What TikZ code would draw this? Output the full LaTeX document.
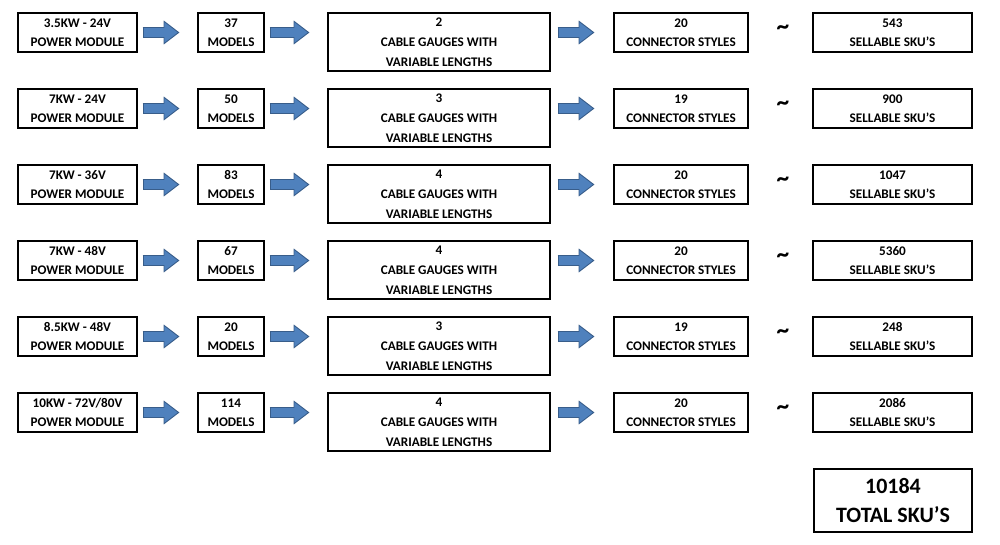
\documentclass[tikz,border=0pt]{standalone}
\usepackage{fontspec}
\setmainfont{Carlito}
\usetikzlibrary{arrows.meta,calc}
\definecolor{arrowblue}{RGB}{79,129,189}
\definecolor{arrowedge}{RGB}{56,93,138}
\begin{document}
\begin{tikzpicture}
[x=0.02cm, y=-0.02cm,
smallbox/.style={rectangle, draw=black, thick, align=center, font=\bfseries\fontsize{7.5}{11}\selectfont, inner sep=0pt},
bigbox/.style={rectangle, draw=black, thick, align=center, font=\bfseries\fontsize{7.5}{11.3}\selectfont, inner sep=0pt, minimum width=222*0.02cm, minimum height=58*0.02cm},
blockarrow/.style={draw=arrowedge, line width=6pt, -{Triangle[length=9pt,width=13pt]}, shorten >=1pt},
blockfill/.style={draw=arrowblue, line width=4.6pt, -{Triangle[length=7.6pt,width=11pt]}, shorten >=2pt, shorten <=0.7pt}]
\useasboundingbox (0,0) rectangle (1000,544);
\foreach \row/\power/\models/\gauges/\styles/\skus in
{0/3.5KW - 24V/37/2/20/543, 1/7KW - 24V/50/3/19/900, 2/7KW - 36V/83/4/20/1047,
3/7KW - 48V/67/4/20/5360, 4/8.5KW - 48V/20/3/19/248, 5/{10KW - 72V/80V}/114/4/20/2086}
{
\pgfmathsetmacro{\top}{13+76*\row}
\node[smallbox, minimum width=119*0.02cm, minimum height=39*0.02cm] (power\row) at (77.5, \top+19.5) {\power\\POWER MODULE};
\node[smallbox, minimum width=66*0.02cm, minimum height=39*0.02cm] (models\row) at (231, \top+19.5) {\models\\MODELS};
\node[bigbox] (cable\row) at (439, \top+29) {\gauges\\CABLE GAUGES WITH\\VARIABLE LENGTHS};
\node[smallbox, minimum width=134*0.02cm, minimum height=39*0.02cm] (conn\row) at (681, \top+19.5) {\styles\\CONNECTOR STYLES};
\node[font=\bfseries\Large] (tilde\row) at (783, \top+17) {\textasciitilde};
\node[smallbox, minimum width=159*0.02cm, minimum height=39*0.02cm] (sku\row) at (892.5, \top+19.5) {\skus\\SELLABLE SKU'S};
\foreach \a/\b in {power/models, models/cable}
{
\draw[blockarrow] ($(\a\row.east |- power\row)+(5,0)$) -- ($(\b\row.west |- power\row)+(-16,0)$);
\draw[blockfill] ($(\a\row.east |- power\row)+(5,0)$) -- ($(\b\row.west |- power\row)+(-16,0)$);
}
\draw[blockarrow] ($(cable\row.east |- power\row)+(7,0)$) -- ($(conn\row.west |- power\row)+(-17,0)$);
\draw[blockfill] ($(cable\row.east |- power\row)+(7,0)$) -- ($(conn\row.west |- power\row)+(-17,0)$);
}
\node[rectangle, draw=black, thick, align=center, font=\bfseries\fontsize{12.5}{17}\selectfont, minimum width=158*0.02cm, minimum height=63*0.02cm, inner sep=0pt] (total) at (893, 500.5) {10184\\TOTAL SKU'S};
\end{tikzpicture}
\end{document}
